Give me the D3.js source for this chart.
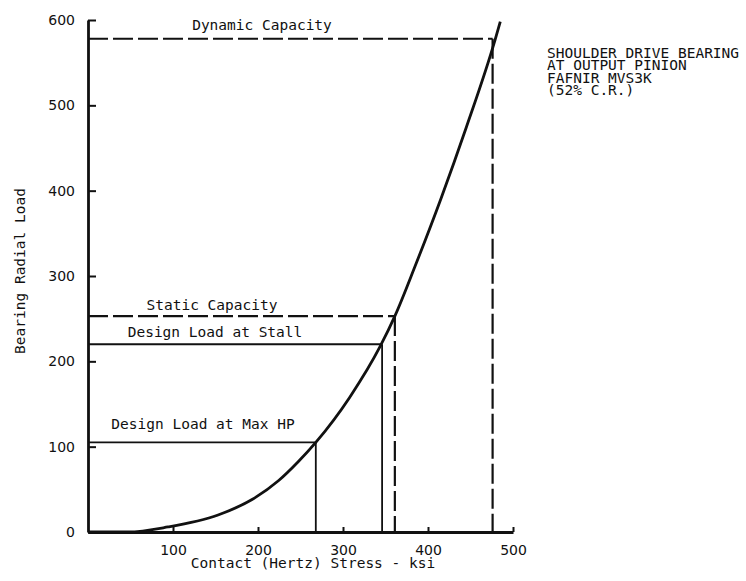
<!DOCTYPE html>
<html lang="en">
<head>
<meta charset="utf-8">
<title>Shoulder Drive Bearing</title>
<style>
body { margin: 0; background: #fff; }
svg { display: block; }
.mono { font-family: "DejaVu Sans Mono", monospace; font-size: 14.5px; fill: #111; }
.tick text { font-family: "DejaVu Sans", sans-serif; font-size: 14px; fill: #111; }
</style>
<script src="https://cdn.jsdelivr.net/npm/d3@7/dist/d3.min.js"></script>
</head>
<body>
<script>

// curve: contact stress (ksi) vs bearing radial load
var stress = [0, 47, 94, 153, 193, 224, 247, 268, 308, 344, 361, 385, 415, 445, 479, 485];
var load   = [0, 0, 5.9, 19.9, 38, 60, 82, 105, 158, 218, 253, 312, 390, 474, 577, 598];

// marked load levels
var levelNames  = ["Dynamic Capacity", "Static Capacity", "Design Load at Stall", "Design Load at Max HP"];
var levelStress = [476, 361, 346, 268];
var levelLoad   = [578, 253, 220, 105];
var levelDashed = [true, true, false, false];

var xTicks = [100, 200, 300, 400, 500];
var yTicks = [0, 100, 200, 300, 400, 500, 600];

var noteLines = ["SHOULDER DRIVE BEARING", "AT OUTPUT PINION", "FAFNIR MVS3K", "(52% C.R.)"];

var width = 746,
	height = 581;

var svg = d3.select("body").append("svg")
	.attr("width", width)
	.attr("height", height);

var x = d3.scaleLinear().domain([0, 500]).range([88, 513]);
var y = d3.scaleLinear().domain([0, 600]).range([532, 20]);

// axes
var yAxis = svg.append("g")
	.attr("transform", "translate(88,0)")
	.call(d3.axisLeft(y).tickValues(yTicks).tickSizeInner(-8).tickSizeOuter(0).tickPadding(13));

var xAxis = svg.append("g")
	.attr("transform", "translate(0,532)")
	.call(d3.axisBottom(x).tickValues(xTicks).tickSizeInner(-5).tickSizeOuter(0).tickPadding(13));

svg.selectAll(".domain").attr("stroke", "#111").attr("stroke-width", 2.8);
svg.selectAll(".tick line").attr("stroke", "#111").attr("stroke-width", 2);
yAxis.selectAll(".tick text").attr("x", -13);

// level lines
var labelPos = [[262, 9], [212, 6], [215, 7], [203, 13]];

levelNames.forEach(function(name, i) {
	var g = svg.append("g")
		.attr("fill", "none")
		.attr("stroke", "#111")
		.attr("stroke-width", levelDashed[i] ? 2.2 : 1.8)
		.attr("stroke-dasharray", levelDashed[i] ? "20,5" : null);
	g.append("line")
		.attr("x1", x(0)).attr("x2", x(levelStress[i]))
		.attr("y1", y(levelLoad[i])).attr("y2", y(levelLoad[i]));
	g.append("line")
		.attr("x1", x(levelStress[i])).attr("x2", x(levelStress[i]))
		.attr("y1", y(levelLoad[i])).attr("y2", y(0));

	svg.append("text")
		.attr("class", "mono")
		.attr("text-anchor", "middle")
		.attr("x", labelPos[i][0])
		.attr("y", y(levelLoad[i]) - labelPos[i][1])
		.text(name);
});

// load curve
var pts = stress.map(function(s, i) { return [s, load[i]]; });

svg.append("path")
	.datum(pts)
	.attr("fill", "none")
	.attr("stroke", "#111")
	.attr("stroke-width", 2.8)
	.attr("d", d3.line()
		.x(function(d) { return x(d[0]); })
		.y(function(d) { return y(d[1]); })
		.curve(d3.curveMonotoneX));

// axis titles
svg.append("text")
	.attr("class", "mono")
	.attr("text-anchor", "middle")
	.attr("transform", "translate(25,271) rotate(-90)")
	.text("Bearing Radial Load");

svg.append("text")
	.attr("class", "mono")
	.attr("text-anchor", "middle")
	.attr("x", 313)
	.attr("y", 568)
	.text("Contact (Hertz) Stress - ksi");

// note
svg.append("text")
	.attr("class", "mono")
	.attr("x", 547)
	.attr("y", 58)
	.selectAll("tspan")
	.data(noteLines)
	.enter()
	.append("tspan")
	.attr("x", 547)
	.attr("dy", function(d, i) { return i ? 12.4 : 0; })
	.text(function(d) { return d; });

</script>
</body>
</html>
